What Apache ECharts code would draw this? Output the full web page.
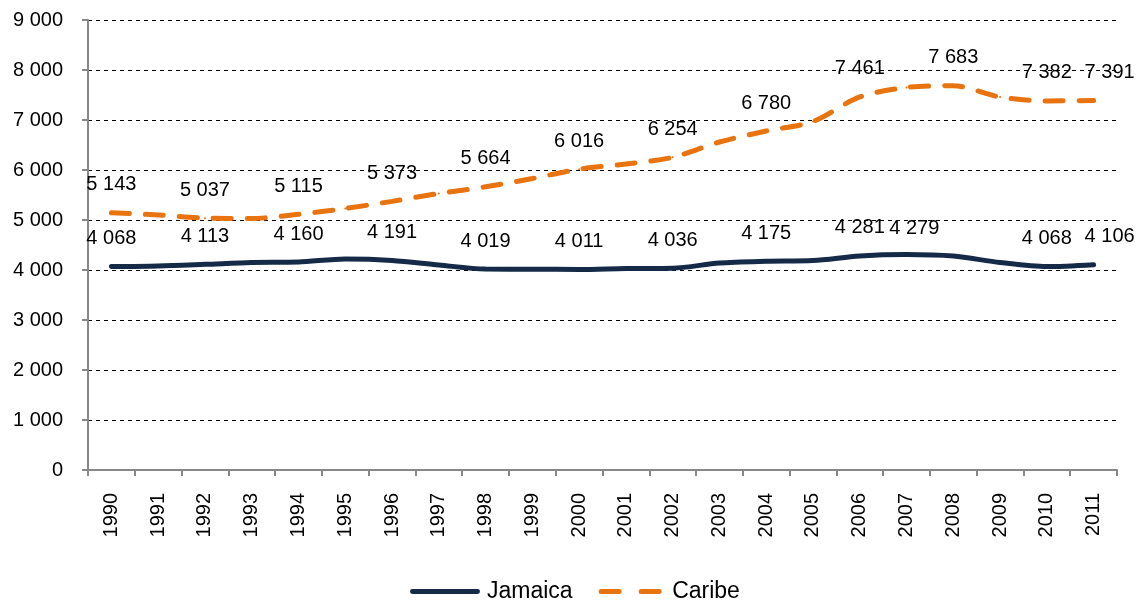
<!DOCTYPE html>
<html><head><meta charset="utf-8">
<script src="https://cdn.jsdelivr.net/npm/echarts@6/dist/echarts.min.js"></script>
<style>html,body{margin:0;padding:0;background:#fff}#c{width:1140px;height:600px}</style>
</head><body><div id="c"></div>
<script>
const years = ['1990','1991','1992','1993','1994','1995','1996','1997','1998','1999','2000','2001','2002','2003','2004','2005','2006','2007','2008','2009','2010','2011'];
const jamaica = [4068, 4080, 4113, 4150, 4160, 4220, 4191, 4100, 4019, 4015, 4011, 4030, 4036, 4140, 4175, 4190, 4281, 4310, 4279, 4150, 4068, 4106];
const caribe = [5143, 5100, 5037, 5030, 5115, 5230, 5373, 5530, 5664, 5830, 6016, 6120, 6254, 6560, 6780, 6970, 7461, 7650, 7683, 7460, 7382, 7391];
const labelIdx = [0, 2, 4, 6, 8, 10, 12, 14, 16, 18, 20, 21];

const fmt = v => String(Math.round(v)).replace(/\B(?=(\d{3})+(?!\d))/g, ' ');
const FONT = '"Liberation Sans", Arial, Helvetica, sans-serif';
const labelShift = [{18: -39, 21: 16}, {21: 16}];
const JAM_COLOR = '#152a47';
const CAR_COLOR = '#e8730f';

function build(arr) {
  return arr.map((v, i) => ({value: v, label: {show: labelIdx.includes(i)}}));
}
function layout(p) {
  const dx = labelShift[p.seriesIndex][p.dataIndex] || 0;
  return {dx: dx, hideOverlap: false};
}

const chart = echarts.init(document.getElementById('c'));
chart.setOption({
  animation: false,
  grid: {left: 88, right: 23, top: 20, bottom: 130},
  legend: {
    top: 575, left: 405, itemWidth: 70, itemHeight: 5, itemGap: 26,
    textStyle: {fontFamily: FONT, fontSize: 23, color: '#000', padding: [0, 0, 0, 2]},
    data: [
      {name: 'Jamaica', icon: 'path://M2.5,0H69.5A2.5,2.5,0,0,1,69.5,5H2.5A2.5,2.5,0,0,1,2.5,0Z', itemStyle: {color: JAM_COLOR}},
      {name: 'Caribe', icon: 'path://M2.5,0H20.5A2.5,2.5,0,0,1,20.5,5H2.5A2.5,2.5,0,0,1,2.5,0Z M42.5,0H60.5A2.5,2.5,0,0,1,60.5,5H42.5A2.5,2.5,0,0,1,42.5,0Z', itemStyle: {color: CAR_COLOR}}
    ]
  },
  xAxis: {
    type: 'category', data: years, boundaryGap: true,
    axisLine: {lineStyle: {color: '#888', width: 2}},
    axisTick: {show: true, length: 6, lineStyle: {color: '#888', width: 2}},
    axisLabel: {rotate: 90, margin: 23, fontFamily: FONT, fontSize: 20, color: '#000', interval: 0}
  },
  yAxis: {
    type: 'value', min: 0, max: 9000, interval: 1000,
    axisLine: {show: true, lineStyle: {color: '#888', width: 2}},
    axisTick: {show: true, length: 6, lineStyle: {color: '#888', width: 2}},
    splitLine: {lineStyle: {color: '#000', type: [4, 4], width: 1}},
    axisLabel: {margin: 25, fontFamily: FONT, fontSize: 20, color: '#000', formatter: fmt}
  },
  series: [
    {
      name: 'Jamaica', type: 'line', smooth: 0.3, symbol: 'circle', symbolSize: 2,
      data: build(jamaica),
      lineStyle: {color: JAM_COLOR, width: 5, cap: 'round'},
      itemStyle: {color: JAM_COLOR},
      label: {position: 'top', distance: 17, fontFamily: FONT, fontSize: 20, color: '#000', formatter: p => fmt(p.value)},
      labelLayout: layout
    },
    {
      name: 'Caribe', type: 'line', smooth: 0.3, symbol: 'circle', symbolSize: 2,
      data: build(caribe),
      lineStyle: {color: CAR_COLOR, width: 5, type: [18, 16], cap: 'round'},
      itemStyle: {color: CAR_COLOR},
      label: {position: 'top', distance: 17, fontFamily: FONT, fontSize: 20, color: '#000', formatter: p => fmt(p.value)},
      labelLayout: layout
    }
  ]
});
</script></body></html>
